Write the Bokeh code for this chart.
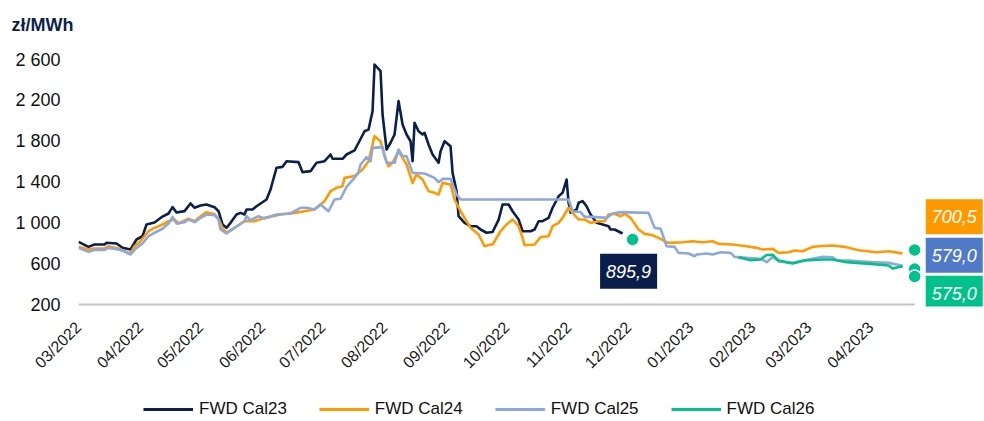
import math
from datetime import datetime
import pandas as pd
from bokeh.plotting import figure
from bokeh.layouts import column
from bokeh.models import (Range1d, FixedTicker, DatetimeTickFormatter, Legend, LegendItem,
                          Label, ColumnDataSource)
from bokeh.embed import file_html
from bokeh.resources import INLINE

# ---------------- data ----------------
cal23_dates = [
    "2022-03-01", "2022-03-06", "2022-03-09", "2022-03-14", "2022-03-15", "2022-03-20", "2022-03-23", "2022-03-27", "2022-03-30", "2022-04-02",
    "2022-04-04", "2022-04-08", "2022-04-12", "2022-04-15", "2022-04-17", "2022-04-19", "2022-04-23", "2022-04-26", "2022-04-28", "2022-05-01",
    "2022-05-04", "2022-05-08", "2022-05-10", "2022-05-12", "2022-05-14", "2022-05-16", "2022-05-19", "2022-05-21", "2022-05-23", "2022-05-24",
    "2022-05-27", "2022-05-29", "2022-06-03", "2022-06-05", "2022-06-08", "2022-06-11", "2022-06-13", "2022-06-19", "2022-06-21", "2022-06-25",
    "2022-06-28", "2022-07-02", "2022-07-05", "2022-07-06", "2022-07-11", "2022-07-13", "2022-07-17", "2022-07-19", "2022-07-22", "2022-07-24",
    "2022-07-26", "2022-07-27", "2022-07-30", "2022-07-31", "2022-08-02", "2022-08-04", "2022-08-06", "2022-08-08", "2022-08-10", "2022-08-12",
    "2022-08-14", "2022-08-15", "2022-08-16", "2022-08-18", "2022-08-20", "2022-08-21", "2022-08-23", "2022-08-25", "2022-08-28", "2022-08-29",
    "2022-08-31", "2022-09-03", "2022-09-04", "2022-09-06", "2022-09-07", "2022-09-10", "2022-09-13", "2022-09-16", "2022-09-18", "2022-09-21",
    "2022-09-24", "2022-09-27", "2022-09-29", "2022-10-02", "2022-10-04", "2022-10-07", "2022-10-09", "2022-10-13", "2022-10-15", "2022-10-17",
    "2022-10-19", "2022-10-22", "2022-10-24", "2022-10-27", "2022-10-29", "2022-10-31", "2022-11-01", "2022-11-02", "2022-11-05", "2022-11-06",
    "2022-11-08", "2022-11-10", "2022-11-12", "2022-11-15", "2022-11-18", "2022-11-21", "2022-11-22", "2022-11-24", "2022-11-28",
]
cal23_values = [
    814, 765, 788, 788, 805, 798, 756, 739, 837, 869,
    984, 1003, 1062, 1092, 1154, 1102, 1115, 1190, 1148, 1170,
    1180, 1154, 1114, 984, 952, 1000, 1082, 1098, 1082, 1131,
    1131, 1163, 1229, 1327, 1540, 1549, 1604, 1595, 1497, 1507,
    1589, 1604, 1670, 1628, 1628, 1670, 1710, 1785, 1898, 1915,
    2094, 2552, 2486, 2062, 1719, 1785, 1866, 2193, 1964, 1866,
    1800, 1604, 1981, 1898, 1866, 1883, 1768, 1670, 1589, 1702,
    1800, 1751, 1490, 1310, 1065, 1000, 967, 967, 935, 903,
    910, 1030, 1180, 1180, 1114, 1033, 918, 918, 935, 1016,
    1016, 1049, 1148, 1261, 1294, 1425, 1197, 1099, 1131, 1197,
    1213, 1163, 1082, 1000, 984, 967, 935, 935, 895.9,
]

cal24_dates = [
    "2022-03-01", "2022-03-06", "2022-03-09", "2022-03-14", "2022-03-16", "2022-03-21", "2022-03-24", "2022-03-27", "2022-03-29", "2022-04-01",
    "2022-04-05", "2022-04-08", "2022-04-12", "2022-04-15", "2022-04-18", "2022-04-20", "2022-04-25", "2022-04-28", "2022-05-01", "2022-05-04",
    "2022-05-08", "2022-05-10", "2022-05-12", "2022-05-14", "2022-05-18", "2022-05-23", "2022-05-28", "2022-06-02", "2022-06-10", "2022-06-17",
    "2022-06-22", "2022-06-27", "2022-07-02", "2022-07-05", "2022-07-08", "2022-07-11", "2022-07-12", "2022-07-17", "2022-07-19", "2022-07-21",
    "2022-07-24", "2022-07-27", "2022-07-30", "2022-08-01", "2022-08-03", "2022-08-05", "2022-08-08", "2022-08-10", "2022-08-12", "2022-08-15",
    "2022-08-17", "2022-08-20", "2022-08-23", "2022-08-26", "2022-08-28", "2022-08-30", "2022-09-03", "2022-09-05", "2022-09-08", "2022-09-10",
    "2022-09-13", "2022-09-17", "2022-09-20", "2022-09-23", "2022-09-24", "2022-09-28", "2022-10-01", "2022-10-04", "2022-10-07", "2022-10-09",
    "2022-10-10", "2022-10-15", "2022-10-18", "2022-10-22", "2022-10-24", "2022-10-27", "2022-10-29", "2022-11-01", "2022-11-03", "2022-11-06",
    "2022-11-09", "2022-11-12", "2022-11-16", "2022-11-19", "2022-11-21", "2022-11-24", "2022-11-27", "2022-11-29", "2022-12-02", "2022-12-06",
    "2022-12-09", "2022-12-13", "2022-12-16", "2022-12-20", "2022-12-21", "2022-12-28", "2023-01-02", "2023-01-07", "2023-01-12", "2023-01-15",
    "2023-01-22", "2023-01-29", "2023-02-03", "2023-02-06", "2023-02-11", "2023-02-14", "2023-02-19", "2023-02-22", "2023-02-26", "2023-03-03",
    "2023-03-06", "2023-03-13", "2023-03-20", "2023-03-26", "2023-04-04", "2023-04-10", "2023-04-15", "2023-04-17",
]
cal24_values = [
    765, 739, 749, 749, 771, 749, 722, 700, 771, 820,
    918, 951, 984, 1016, 1033, 994, 1040, 1016, 1065, 1105,
    1085, 1040, 950, 903, 951, 1016, 1016, 1049, 1082, 1098,
    1114, 1131, 1213, 1310, 1343, 1359, 1441, 1460, 1490, 1523,
    1604, 1850, 1800, 1653, 1555, 1589, 1702, 1637, 1572, 1392,
    1474, 1425, 1310, 1294, 1278, 1392, 1376, 1229, 1114, 1049,
    951, 886, 771, 788, 788, 918, 984, 1033, 967, 853,
    781, 788, 860, 869, 967, 1000, 1049, 1148, 1098, 1033,
    1033, 1000, 1016, 1016, 1082, 1089, 1065, 1089, 1049, 935,
    892, 879, 853, 810, 804, 810, 820, 810, 820, 794,
    788, 771, 755, 739, 745, 706, 712, 729, 722, 765,
    771, 778, 762, 732, 712, 722, 706, 700.5,
]

cal25_dates = [
    "2022-03-01", "2022-03-06", "2022-03-09", "2022-03-14", "2022-03-16", "2022-03-21", "2022-03-24", "2022-03-27", "2022-03-30", "2022-04-02",
    "2022-04-05", "2022-04-08", "2022-04-12", "2022-04-15", "2022-04-17", "2022-04-19", "2022-04-23", "2022-04-25", "2022-04-28", "2022-05-01",
    "2022-05-04", "2022-05-08", "2022-05-10", "2022-05-11", "2022-05-14", "2022-05-18", "2022-05-23", "2022-05-24", "2022-05-26", "2022-05-30",
    "2022-06-02", "2022-06-08", "2022-06-15", "2022-06-20", "2022-06-23", "2022-06-27", "2022-06-30", "2022-07-04", "2022-07-07", "2022-07-10",
    "2022-07-13", "2022-07-17", "2022-07-19", "2022-07-20", "2022-07-23", "2022-07-25", "2022-07-26", "2022-07-31", "2022-08-02", "2022-08-06",
    "2022-08-08", "2022-08-10", "2022-08-12", "2022-08-15", "2022-08-21", "2022-08-26", "2022-08-28", "2022-08-30", "2022-09-03", "2022-09-06",
    "2022-09-08", "2022-11-01", "2022-11-03", "2022-11-07", "2022-11-09", "2022-11-13", "2022-11-20", "2022-11-23", "2022-11-27", "2022-12-11",
    "2022-12-14", "2022-12-17", "2022-12-20", "2022-12-24", "2022-12-26", "2022-12-31", "2023-01-03", "2023-01-04", "2023-01-09", "2023-01-12",
    "2023-01-16", "2023-01-21", "2023-01-23", "2023-01-29", "2023-02-03", "2023-02-06", "2023-02-08", "2023-02-11", "2023-02-14", "2023-02-21",
    "2023-02-27", "2023-03-08", "2023-03-13", "2023-03-15", "2023-03-21", "2023-04-01", "2023-04-10", "2023-04-17",
]
cal25_values = [
    755, 716, 735, 735, 755, 739, 722, 690, 755, 798,
    869, 903, 942, 994, 1059, 994, 1007, 1033, 1007, 1049,
    1082, 1075, 1033, 935, 896, 951, 1016, 1065, 1026, 1065,
    1043, 1082, 1092, 1148, 1148, 1131, 1180, 1114, 1229, 1236,
    1353, 1440, 1500, 1572, 1644, 1604, 1735, 1742, 1589, 1589,
    1719, 1653, 1653, 1490, 1484, 1441, 1399, 1431, 1431, 1278,
    1229, 1229, 1114, 1105, 1059, 1059, 1049, 1092, 1105, 1098,
    951, 942, 771, 765, 706, 700, 673, 690, 700, 690,
    712, 706, 667, 657, 651, 641, 615, 665, 624, 608,
    634, 667, 663, 634, 631, 615, 608, 579.0,
]

cal26_dates = [
    "2023-01-25", "2023-01-31", "2023-02-05", "2023-02-08", "2023-02-11", "2023-02-14", "2023-02-21", "2023-02-27", "2023-03-08", "2023-03-13",
    "2023-03-20", "2023-04-01", "2023-04-10", "2023-04-12", "2023-04-17",
]
cal26_values = [
    663, 634, 641, 685, 688, 630, 602, 631, 641, 641,
    615, 598, 582, 553, 575.0,
]

series_names = ["FWD Cal23", "FWD Cal24", "FWD Cal25", "FWD Cal26"]

# green marker dots of the original chart
dot_dates = ["2022-12-03", "2023-04-23", "2023-04-23", "2023-04-23"]
dot_values = [837, 734, 548, 474]

month_ticks = ["2022-03-01", "2022-04-01", "2022-05-01", "2022-06-01", "2022-07-01", "2022-08-01", "2022-09-01",
               "2022-10-01", "2022-11-01", "2022-12-01", "2023-01-01", "2023-02-01", "2023-03-01", "2023-04-01"]
axis_end_date = "2023-04-23"
y_ticks = [200, 600, 1000, 1400, 1800, 2200, 2600]
y_tick_labels = ["200", "600", "1 000", "1 400", "1 800", "2 200", "2 600"]

# ---------------- style ----------------
NAVY = "#0B1F4E"
ORANGE = "#FF9A00"
LBLUE = "#8CA8DC"
GREEN = "#00C08B"
BOX_COLORS = ["#0A1E4B", "#FF9900", "#507AC7", "#00C18A"]
LINE_COLORS = [NAVY, ORANGE, LBLUE, GREEN]
FONT = "Liberation Sans"

p = figure(width=983, height=386, output_backend="svg", toolbar_location=None,
           x_axis_type="datetime",
           x_range=Range1d(datetime(2022, 3, 1), datetime(2023, 5, 27, 10)),
           y_range=Range1d(180.4, 2797),
           min_border_left=78, min_border_right=0, min_border_top=39, min_border_bottom=80)
p.outline_line_color = None
p.xgrid.visible = False
p.ygrid.visible = False

p.title.text = "zł/MWh"
p.title.text_font = FONT
p.title.text_font_size = "18px"
p.title.text_font_style = "bold"
p.title.text_color = NAVY
p.title.align = "left"
p.title.offset = -67

# baseline (horizontal axis line)
p.segment(x0=[pd.Timestamp(month_ticks[0])], y0=[y_ticks[0]], x1=[pd.Timestamp(axis_end_date)],
          y1=[y_ticks[0]], line_color="#C4C4C4", line_width=2)

all_dates = [cal23_dates, cal24_dates, cal25_dates, cal26_dates]
all_vals = [cal23_values, cal24_values, cal25_values, cal26_values]
for d, v, c in zip(all_dates, all_vals, LINE_COLORS):
    src = ColumnDataSource(dict(x=pd.to_datetime(d), y=v))
    p.line("x", "y", source=src, line_color=c, line_width=2.6, line_join="round")

p.scatter(pd.to_datetime(dot_dates), dot_values, size=13, marker="circle",
          fill_color=GREEN, line_color="white", line_width=1.5)

# x axis
xa = p.xaxis[0]
xa.ticker = FixedTicker(ticks=[pd.Timestamp(t).value / 1e6 for t in month_ticks])
fmt = "%m/%Y"
xa.formatter = DatetimeTickFormatter(days=fmt, months=fmt, years=fmt, hours=fmt, minutes=fmt,
                                     seconds=fmt, milliseconds=fmt, microseconds=fmt, minsec=fmt,
                                     hourmin=fmt)
xa.major_label_orientation = math.pi / 4
xa.major_label_text_font = FONT
xa.major_label_text_font_size = "16px"
xa.major_label_text_color = "#1A1A1A"
xa.major_label_standoff = 18
xa.major_tick_out = 0
xa.major_tick_in = 0
xa.axis_line_color = None
xa.major_tick_line_color = None
xa.minor_tick_line_color = None

# y axis
ya = p.yaxis[0]
ya.ticker = FixedTicker(ticks=y_ticks)
ya.major_label_overrides = {t: s for t, s in zip(y_ticks, y_tick_labels)}
ya.major_label_text_font = FONT
ya.major_label_text_font_size = "18px"
ya.major_label_text_color = "#111111"
ya.major_label_standoff = 18
ya.major_tick_out = 0
ya.major_tick_in = 0
ya.axis_line_color = None
ya.major_tick_line_color = None
ya.minor_tick_line_color = None

# value boxes at the last points
offsets = [(6, -37.7), (51.6, 36.6), (51.6, 10.5), (51.6, -27.1)]
for d, v, bc, (xo, yo) in zip(all_dates, all_vals, BOX_COLORS, offsets):
    txt = f"{v[-1]:.1f}".replace(".", ",")
    lab = Label(x=pd.Timestamp(d[-1]).value / 1e6, y=v[-1], x_offset=xo, y_offset=yo, text=txt,
                text_align="center", text_baseline="middle",
                text_font=FONT, text_font_style="italic", text_font_size="18px",
                text_color="white", background_fill_color=bc, border_line_color=None,
                padding=dict(left=6, right=6, top=11, bottom=11))
    p.add_layout(lab)

# legend in a separate strip below the chart (series drawn off-range, only legend shows)
lg = figure(width=983, height=34, output_backend="svg", toolbar_location=None,
            x_range=Range1d(0, 1), y_range=Range1d(0, 1),
            x_axis_location=None, y_axis_location=None,
            min_border_left=0, min_border_right=0, min_border_top=0, min_border_bottom=0)
lg.grid.visible = False
lg.outline_line_color = None
items = []
for n, d, v, c in zip(series_names, all_dates, all_vals, LINE_COLORS):
    r = lg.line(x=pd.to_datetime(d), y=v, line_color=c, line_width=3)
    items.append(LegendItem(label=n, renderers=[r]))
leg = Legend(items=items, orientation="horizontal", location=(65, 1),
             glyph_width=50, glyph_height=20, label_standoff=6, spacing=32,
             padding=0, margin=0, border_line_color=None, background_fill_alpha=0,
             label_text_font=FONT, label_text_font_size="17px", label_text_color="#111111")
lg.add_layout(leg, "center")

layout = column(p, lg, spacing=0)
open("out.html", "w").write(file_html(layout, INLINE))
